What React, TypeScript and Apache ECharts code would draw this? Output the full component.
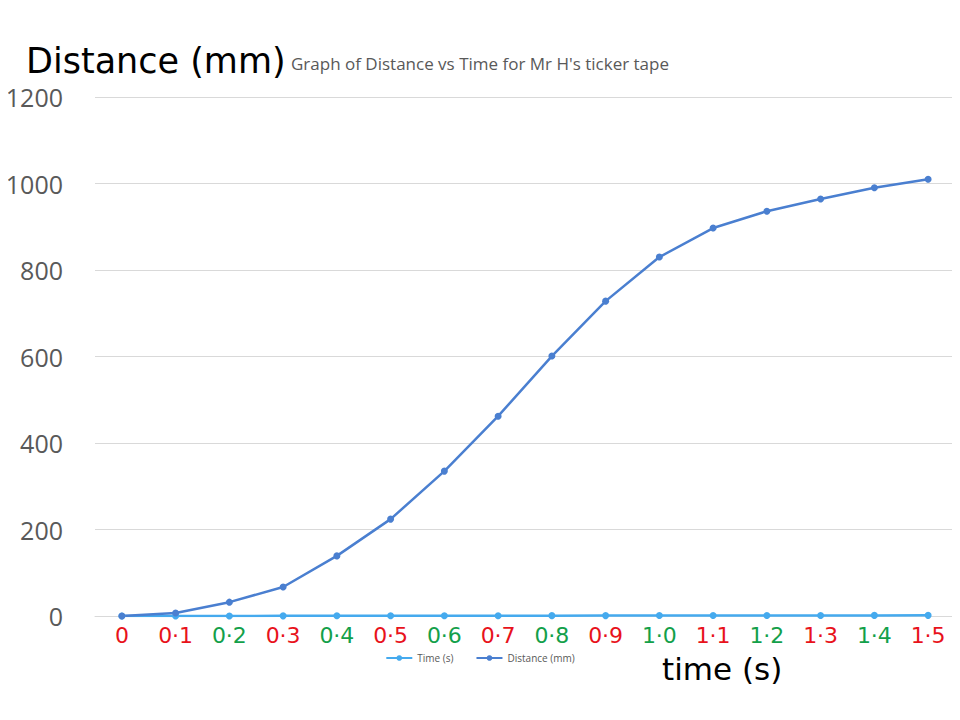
import React, { useEffect, useRef } from "react";
import * as echarts from "echarts";

const categories = ["0", "0·1", "0·2", "0·3", "0·4", "0·5", "0·6", "0·7", "0·8", "0·9", "1·0", "1·1", "1·2", "1·3", "1·4", "1·5"];
const labelColors = ["r", "r", "g", "r", "g", "r", "g", "r", "g", "r", "g", "r", "g", "r", "g", "r"];
const timeValues = [0, 0.1, 0.2, 0.3, 0.4, 0.5, 0.6, 0.7, 0.8, 0.9, 1.0, 1.1, 1.2, 1.3, 1.4, 1.5];
const distanceValues = [0, 7, 32, 67, 139, 224, 335, 462, 601, 728, 830, 897, 936, 964, 990, 1010];
const yTicks = { min: 0, max: 1200, interval: 200 };

export default function App() {
  const ref = useRef<HTMLDivElement>(null);
  useEffect(() => {
    if (!ref.current) return;
    const chart = echarts.init(ref.current, null, { renderer: "svg" });
    chart.setOption({
      animation: false,
      backgroundColor: "#ffffff",
      title: {
        text: "Graph of Distance vs Time for Mr H's ticker tape",
        left: 286,
        top: 50,
        textStyle: { fontSize: 17, fontWeight: "normal", color: "#595959", fontFamily: "Open Sans" },
      },
      legend: {
        bottom: 52,
        left: "center",
        itemWidth: 26,
        itemHeight: 7,
        itemGap: 22,
        textStyle: { fontSize: 10, color: "#595959", fontFamily: "Open Sans" },
        data: ["Time (s)", "Distance (mm)"],
      },
      grid: { left: 95, right: 5, top: 97, bottom: 104 },
      xAxis: {
        type: "category",
        data: categories,
        boundaryGap: true,
        axisLine: { show: true, lineStyle: { color: "#d9d9d9" } },
        axisTick: { show: false },
        axisLabel: {
          margin: 8,
          interval: 0,
          formatter: (v: string, i: number) => `{${labelColors[i]}|${v}}`,
          rich: {
            r: { color: "#e8121b", fontSize: 22, fontFamily: "DejaVu Sans" },
            g: { color: "#13a04a", fontSize: 22, fontFamily: "DejaVu Sans" },
          },
        },
      },
      yAxis: {
        type: "value",
        min: yTicks.min,
        max: yTicks.max,
        interval: yTicks.interval,
        axisLine: { show: false },
        axisTick: { show: false },
        axisLabel: {
          margin: 32,
          fontSize: 25,
          color: "#595959",
          fontFamily: "Open Sans",
          formatter: (v: number) => String(v),
        },
        splitLine: { lineStyle: { color: "#d9d9d9" } },
      },
      series: [
        {
          name: "Time (s)",
          type: "line",
          data: timeValues,
          symbol: "circle",
          symbolSize: 7,
          itemStyle: { color: "#45aaee" },
          lineStyle: { color: "#45aaee", width: 2.5 },
        },
        {
          name: "Distance (mm)",
          type: "line",
          data: distanceValues,
          symbol: "circle",
          symbolSize: 7,
          itemStyle: { color: "#4a7fd0" },
          lineStyle: { color: "#4a7fd0", width: 2.5 },
        },
      ],
      graphic: [
        {
          type: "text",
          left: 26,
          top: 43,
          style: { text: "Distance (mm)", fontSize: 35, fill: "#000000", fontFamily: "DejaVu Sans" },
        },
        {
          type: "text",
          left: 662,
          top: 653,
          style: { text: "time (s)", fontSize: 31, fill: "#000000", fontFamily: "DejaVu Sans" },
        },
      ],
    });
    return () => chart.dispose();
  }, []);
  return <div ref={ref} style={{ width: 960, height: 720, margin: -8 }} />;
}
